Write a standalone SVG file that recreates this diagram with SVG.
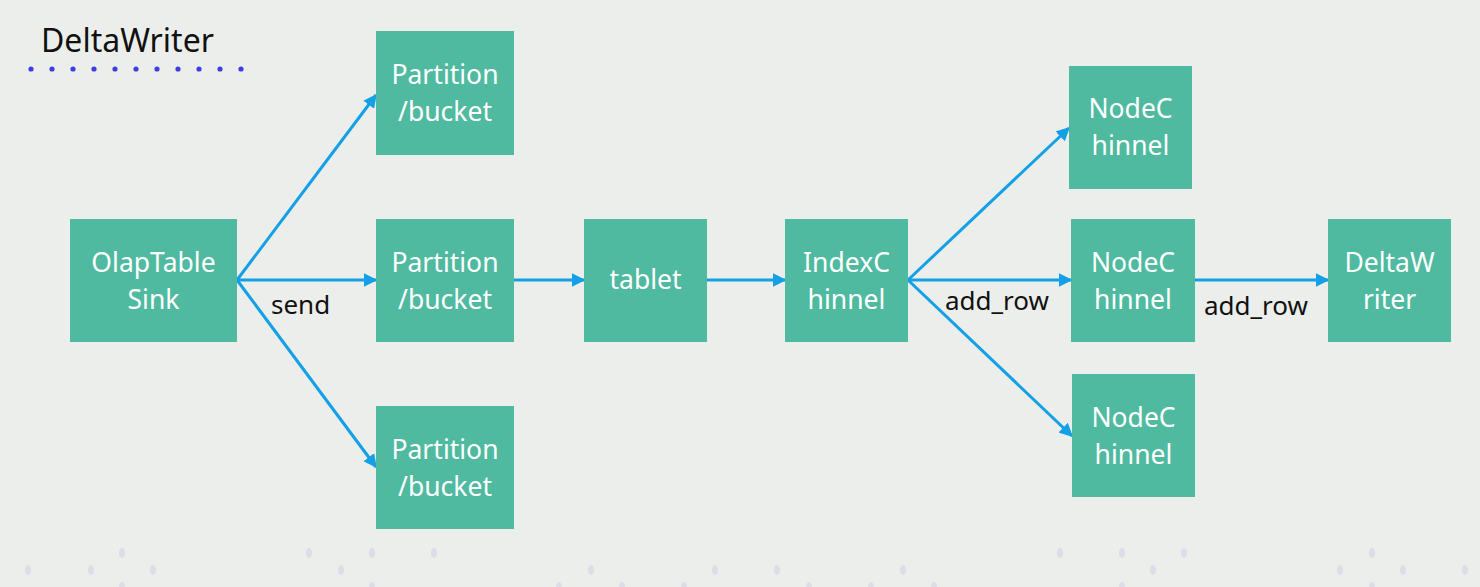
<svg xmlns="http://www.w3.org/2000/svg" width="1480" height="587" viewBox="0 0 1480 587">
<defs>
<style>
.node rect{fill:#4fba9f}
.node text{fill:#ffffff;font-family:"Noto Sans","Open Sans",sans-serif;font-size:26.5px;text-anchor:middle}
.lbl{fill:#111111;font-family:"Noto Sans","Open Sans",sans-serif;font-size:26px}
.edge{stroke:#13a0e6;stroke-width:3;fill:none;marker-end:url(#ah)}
.dot{fill:#3b3fe0}
.bd{fill:#dcdde8}
</style>
<marker id="ah" viewBox="0 0 10 10" refX="9" refY="5" markerWidth="4.5" markerHeight="4.5" orient="auto" markerUnits="strokeWidth">
<path d="M0,0 L10,5 L0,10 z" fill="#13a0e6"/>
</marker>
</defs>
<rect width="1480" height="587" fill="#eceeeb"/>
<text x="41" y="52" font-family="Noto Sans,Open Sans,sans-serif" font-size="32" fill="#111111">DeltaWriter</text>
<g id="title-dots">
<circle class="dot" cx="31" cy="69" r="2.6"/><circle class="dot" cx="52" cy="69" r="2.6"/><circle class="dot" cx="73" cy="69" r="2.6"/><circle class="dot" cx="94" cy="69" r="2.6"/><circle class="dot" cx="115" cy="69" r="2.6"/><circle class="dot" cx="136" cy="69" r="2.6"/><circle class="dot" cx="157" cy="69" r="2.6"/><circle class="dot" cx="178" cy="69" r="2.6"/><circle class="dot" cx="199" cy="69" r="2.6"/><circle class="dot" cx="220" cy="69" r="2.6"/><circle class="dot" cx="241" cy="69" r="2.6"/>
</g>
<g id="bg-dots">
<ellipse class="bd" cx="122" cy="553" rx="3" ry="5"/><ellipse class="bd" cx="309" cy="553" rx="3" ry="5"/><ellipse class="bd" cx="372" cy="553" rx="3" ry="5"/><ellipse class="bd" cx="434" cy="553" rx="3" ry="5"/><ellipse class="bd" cx="1060" cy="553" rx="3" ry="5"/><ellipse class="bd" cx="1122" cy="553" rx="3" ry="5"/><ellipse class="bd" cx="1184" cy="553" rx="3" ry="5"/><ellipse class="bd" cx="1372" cy="553" rx="3" ry="5"/>
<ellipse class="bd" cx="28" cy="570" rx="3" ry="5"/><ellipse class="bd" cx="91" cy="570" rx="3" ry="5"/><ellipse class="bd" cx="153" cy="570" rx="3" ry="5"/><ellipse class="bd" cx="341" cy="570" rx="3" ry="5"/><ellipse class="bd" cx="591" cy="570" rx="3" ry="5"/><ellipse class="bd" cx="715" cy="570" rx="3" ry="5"/><ellipse class="bd" cx="777" cy="570" rx="3" ry="5"/><ellipse class="bd" cx="903" cy="570" rx="3" ry="5"/><ellipse class="bd" cx="1153" cy="570" rx="3" ry="5"/><ellipse class="bd" cx="1340" cy="570" rx="3" ry="5"/><ellipse class="bd" cx="1403" cy="570" rx="3" ry="5"/><ellipse class="bd" cx="1465" cy="570" rx="3" ry="5"/>
<ellipse class="bd" cx="122" cy="587" rx="3" ry="5"/><ellipse class="bd" cx="372" cy="587" rx="3" ry="5"/><ellipse class="bd" cx="559" cy="587" rx="3" ry="5"/><ellipse class="bd" cx="622" cy="587" rx="3" ry="5"/><ellipse class="bd" cx="684" cy="587" rx="3" ry="5"/><ellipse class="bd" cx="809" cy="587" rx="3" ry="5"/><ellipse class="bd" cx="871" cy="587" rx="3" ry="5"/><ellipse class="bd" cx="934" cy="587" rx="3" ry="5"/><ellipse class="bd" cx="1122" cy="587" rx="3" ry="5"/><ellipse class="bd" cx="1372" cy="587" rx="3" ry="5"/>
</g>
<g id="connectors">
<path class="edge" d="M237,280 L376,95"/>
<path class="edge" d="M237,280 L376,280"/>
<path class="edge" d="M237,280 L376,467"/>
<path class="edge" d="M514,280 L584,280"/>
<path class="edge" d="M707,280 L785,280"/>
<path class="edge" d="M908,280 L1069,128"/>
<path class="edge" d="M908,280 L1071,280"/>
<path class="edge" d="M908,280 L1072,436"/>
<path class="edge" d="M1195,280 L1328,280"/>
<text class="lbl" x="271" y="314">send</text>
<text class="lbl" x="945" y="310">add_row</text>
<text class="lbl" x="1204" y="315">add_row</text>
</g>
<g id="olap" class="node"><rect x="70" y="219" width="167" height="123"/><text x="153.5" y="272">OlapTable</text><text x="153.5" y="309">Sink</text></g>
<g id="part1" class="node"><rect x="376" y="31" width="138" height="124"/><text x="445" y="84">Partition</text><text x="445" y="121">/bucket</text></g>
<g id="part2" class="node"><rect x="376" y="219" width="138" height="123"/><text x="445" y="272">Partition</text><text x="445" y="309">/bucket</text></g>
<g id="part3" class="node"><rect x="376" y="406" width="138" height="123"/><text x="445" y="459">Partition</text><text x="445" y="496">/bucket</text></g>
<g id="tablet" class="node"><rect x="584" y="219" width="123" height="123"/><text x="645.5" y="289">tablet</text></g>
<g id="indexc" class="node"><rect x="785" y="219" width="123" height="123"/><text x="846.5" y="272">IndexC</text><text x="846.5" y="309">hinnel</text></g>
<g id="nodec1" class="node"><rect x="1069" y="66" width="123" height="123"/><text x="1130.5" y="118">NodeC</text><text x="1130.5" y="155">hinnel</text></g>
<g id="nodec2" class="node"><rect x="1071" y="219" width="124" height="123"/><text x="1133" y="272">NodeC</text><text x="1133" y="309">hinnel</text></g>
<g id="nodec3" class="node"><rect x="1072" y="374" width="123" height="123"/><text x="1133.5" y="427">NodeC</text><text x="1133.5" y="464">hinnel</text></g>
<g id="deltaw" class="node"><rect x="1328" y="219" width="123" height="123"/><text x="1389.5" y="272">DeltaW</text><text x="1389.5" y="309">riter</text></g>
</svg>
